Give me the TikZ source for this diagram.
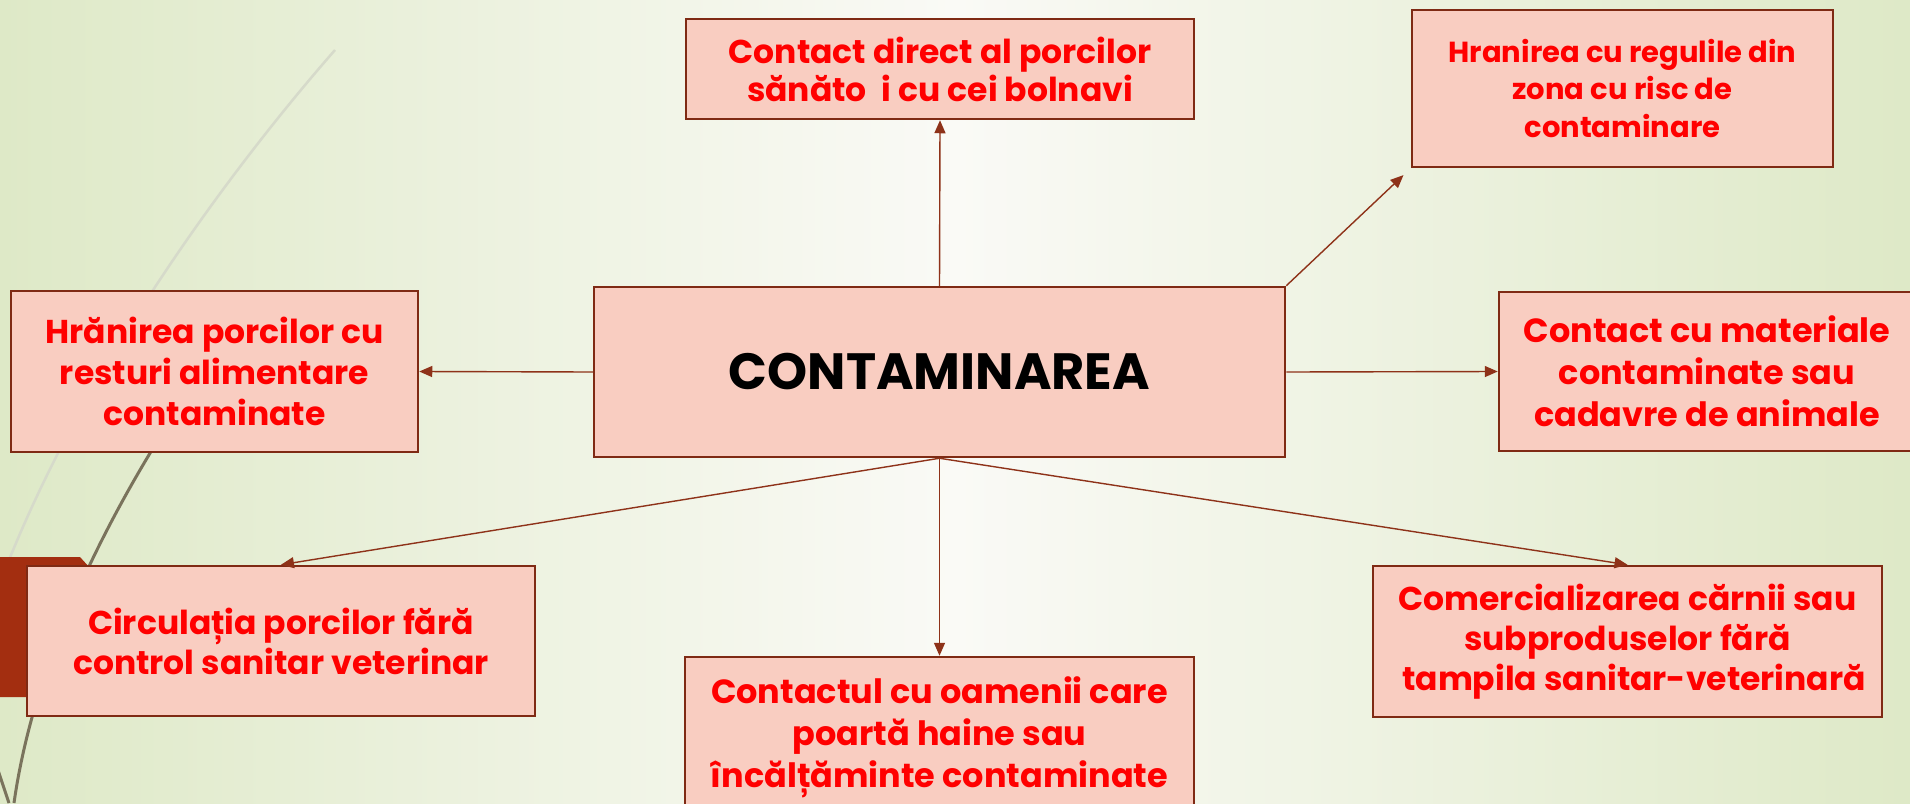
\documentclass[tikz,border=0pt]{standalone}
\usepackage{fontspec}
\setmainfont{Poppins}
\usetikzlibrary{arrows.meta}

\definecolor{boxfill}{HTML}{F9CDC1}
\definecolor{boxline}{HTML}{7F2A14}
\definecolor{arrowcol}{HTML}{8E3219}
\definecolor{bgside}{HTML}{DEE9C7}
\definecolor{bgmid}{HTML}{FAFAF6}
\definecolor{tabred}{HTML}{A32E10}
\definecolor{olive}{HTML}{7A735C}
\definecolor{faint}{HTML}{D6DACA}

\begin{document}
\begin{tikzpicture}[x=1pt,y=-1pt,
    box/.style={draw=boxline, fill=boxfill, line width=2.5pt, text=red, align=center, inner sep=0pt},
    conn/.style={draw=arrowcol, line width=1.4pt, -{Triangle[length=13pt,width=11pt]}}]

    % Slide background
    \clip (0,0) rectangle (1910,803);
    \shade[left color=bgside, right color=bgside, middle color=bgmid] (0,0) rectangle (1910,803);
    \draw[faint, line width=2.5pt] (335,50) .. controls (230,170) and (90,360) .. (9,560);
    \draw[olive, line width=3pt] (240,320) .. controls (150,440) and (40,620) .. (14,803);
    \draw[olive, line width=3pt] (-2,770) -- (9,803);
    \fill[tabred] (-5,557) -- (80,557) -- (90,568) -- (90,697) -- (-5,697) -- cycle;

    % Boxes
    \node[box, minimum width=691, minimum height=170, text=black, font=\fontsize{51}{60}\selectfont\bfseries] (cont) at (939.5,372) {CONTAMINAREA};

    \node[box, minimum width=508, minimum height=100, font=\fontsize{33}{38}\selectfont\bfseries] (direct) at (940,69) {Contact direct al porcilor\\sănăto\hspace{0.45em}i cu cei bolnavi};
    \node[box, minimum width=421, minimum height=157, font=\fontsize{29}{37}\selectfont\bfseries] (regul) at (1622.5,88.5) {Hranirea cu regulile din\\zona cu risc de\\contaminare};
    \node[box, minimum width=407, minimum height=161, font=\fontsize{33}{41}\selectfont\bfseries] (resturi) at (214.5,371.5) {Hrănirea porcilor cu\\resturi alimentare\\contaminate};
    \node[box, minimum width=416, minimum height=159, font=\fontsize{33.5}{42}\selectfont\bfseries] (materiale) at (1707,371.5) {Contact cu materiale\\contaminate sau\\cadavre de animale};
    \node[box, minimum width=508, minimum height=150, font=\fontsize{33}{40}\selectfont\bfseries] (circ) at (281,641) {Circulația porcilor fără\\control sanitar veterinar};
    \node[box, minimum width=509, minimum height=160, font=\fontsize{33.5}{42}\selectfont\bfseries] (oameni) at (939.5,737) {Contactul cu oamenii care\\poartă haine sau\\încălțăminte contaminate};
    \node[box, minimum width=509, minimum height=151, font=\fontsize{33}{40}\selectfont\bfseries] (comerc) at (1627.5,641.5) {Comercializarea cărnii sau\\subproduselor fără\\\hspace*{13pt}tampila sanitar-veterinară};

    % Arrows out of the centre
    \draw[conn] (cont.north) -- (direct.south);
    \draw[conn, shorten >=10pt] (cont.north east) -- (regul.south west);
    \draw[conn] (cont.west) -- (resturi.east);
    \draw[conn] (cont.east) -- (materiale.west);
    \draw[conn] (cont.south) -- (circ.north);
    \draw[conn] (cont.south) -- (oameni.north);
    \draw[conn] (cont.south) -- (comerc.north);

\end{tikzpicture}
\end{document}
